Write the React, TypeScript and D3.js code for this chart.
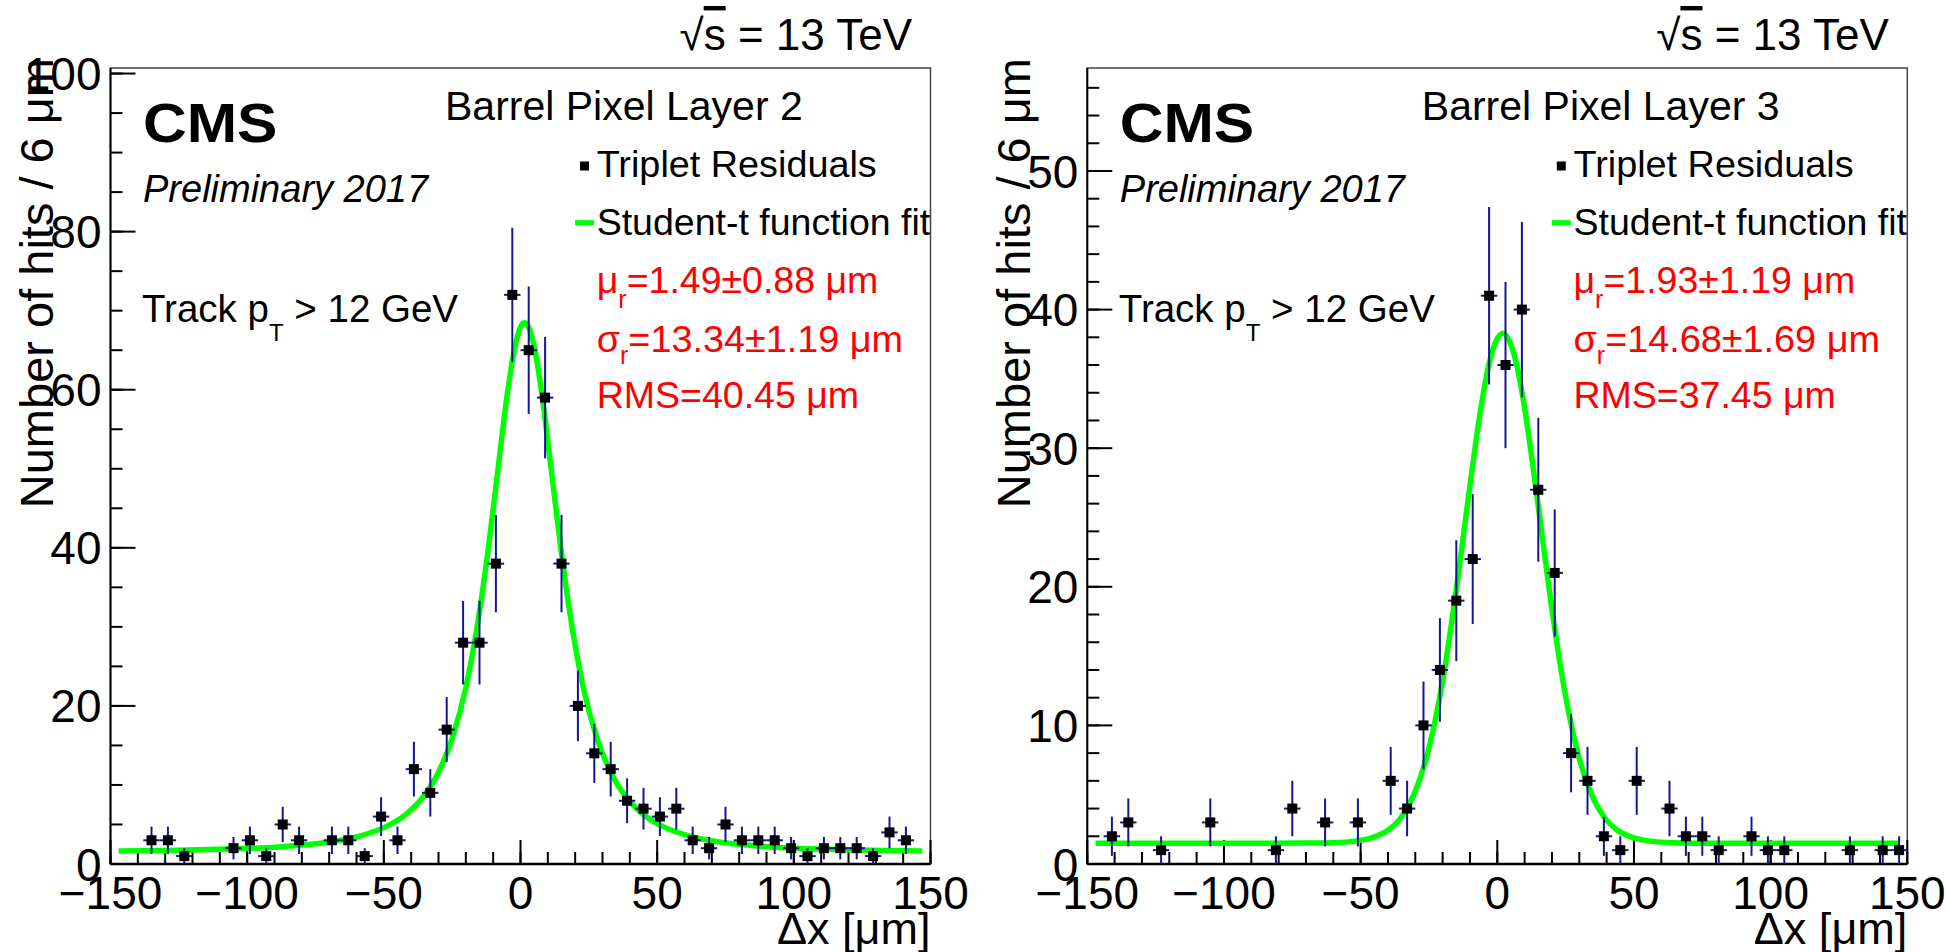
import React from 'react';
import * as d3 from 'd3';

// ---------- data ----------
const binCenters = [-147,-141,-135,-129,-123,-117,-111,-105,-99,-93,-87,-81,-75,-69,-63,-57,-51,-45,-39,-33,-27,-21,-15,-9,-3,3,9,15,21,27,33,39,45,51,57,63,69,75,81,87,93,99,105,111,117,123,129,135,141,147];

const layer2Counts = [0,0,3,3,1,0,0,2,3,1,5,3,0,3,3,1,6,3,12,9,17,28,28,38,72,65,59,38,20,14,12,8,7,6,7,3,2,5,3,3,3,2,1,2,2,2,1,4,3,0];
const layer3Counts = [0,2,3,0,1,0,0,3,0,0,0,1,4,0,3,0,3,0,6,4,10,14,19,22,41,36,40,27,21,8,6,2,1,6,0,4,2,2,1,0,2,1,1,0,0,0,1,0,1,1];

const layer2FitX = [-147,-130,-110,-90,-75,-60,-50,-42,-36,-30,-25,-20,-16,-12,-8,-5,-2,0,1.5,3,5,8,11,15,19,23,28,33,39,45,53,63,78,93,113,133,147];
const layer2FitY = [1.65,1.72,1.86,2.13,2.55,3.43,4.60,6.26,8.32,11.6,15.9,22.3,29.7,39.3,50.6,59.0,65.5,67.9,68.5,67.9,65.5,59.0,50.6,39.3,29.7,22.3,15.9,11.6,8.32,6.26,4.60,3.43,2.55,2.13,1.86,1.72,1.66];

const layer3FitX = [-147,-100,-70,-60,-52,-46,-40,-35,-30,-25,-20,-15,-10,-6,-3,0,2,4,7,10,14,19,24,29,34,39,44,50,56,64,80,110,147];
const layer3FitY = [1.50,1.50,1.51,1.54,1.65,1.88,2.43,3.41,5.24,8.37,13.2,19.8,27.3,32.9,36.1,37.9,38.3,37.9,36.1,32.9,27.3,19.8,13.2,8.37,5.24,3.41,2.43,1.88,1.65,1.54,1.50,1.50,1.50];

const xTicks = [-150,-100,-50,0,50,100,150];
const layer2YTicks = [0,20,40,60,80,100];
const layer3YTicks = [0,10,20,30,40,50];

const layer2Stats = ['1.49±0.88', '13.34±1.19', '40.45'];
const layer3Stats = ['1.93±1.19', '14.68±1.69', '37.45'];

const FONT = '"Liberation Sans", Arial, Helvetica, sans-serif';
const RED = '#ff0000';
const NAVY = '#14149a';
const GREEN = '#00ff00';

type PanelProps = {
  x0: number;
  counts: number[];
  fitX: number[];
  fitY: number[];
  yMax: number;
  yTicks: number[];
  yMinorCount: number;
  layer: string;
  stats: string[];
};

function Panel({ x0, counts, fitX, fitY, yMax, yTicks, yMinorCount, layer, stats }: PanelProps) {
  const x1 = x0 + 820;
  const yTop = 68;
  const yBot = 864;
  const x = d3.scaleLinear().domain([-150, 150]).range([x0, x1]);
  const y = d3.scaleLinear().domain([0, yMax]).range([yBot, yTop]);
  const xMinor = x.ticks(30);
  const yMinor = y.ticks(yMinorCount);
  const line = d3
    .line<number>()
    .x((d, i) => x(fitX[i]))
    .y((d) => y(d))
    .curve(d3.curveMonotoneX);
  const pts = binCenters.map((c, i) => ({ c, n: counts[i] })).filter((p) => p.n > 0);
  const halfBin = 3;
  const ms = 10;
  const lx = x0 + 486.2;

  return (
    <g fontFamily={FONT}>
      {/* frame */}
      <rect x={x0} y={yTop} width={x1 - x0} height={yBot - yTop} fill="none" stroke="#444" strokeWidth={1.5} />
      {/* x axis ticks */}
      {xMinor.map((t) => (
        <line key={'xm' + t} x1={x(t)} x2={x(t)} y1={yBot} y2={yBot - 12} stroke="#000" strokeWidth={2} />
      ))}
      {xTicks.map((t) => (
        <line key={'xM' + t} x1={x(t)} x2={x(t)} y1={yBot} y2={yBot - 24} stroke="#000" strokeWidth={2} />
      ))}
      {/* y axis ticks */}
      {yMinor.map((t) => (
        <line key={'ym' + t} x1={x0} x2={x0 + 12} y1={y(t)} y2={y(t)} stroke="#000" strokeWidth={2} />
      ))}
      {yTicks.map((t) => (
        <line key={'yM' + t} x1={x0} x2={x0 + 25} y1={y(t)} y2={y(t)} stroke="#000" strokeWidth={2} />
      ))}
      <line x1={x0} x2={x1} y1={yBot} y2={yBot} stroke="#000" strokeWidth={2.5} />
      <line x1={x0} x2={x0} y1={yTop} y2={yBot} stroke="#000" strokeWidth={2} />

      {/* tick labels */}
      {xTicks.map((t) => (
        <text key={'xl' + t} x={x(t)} y={909} fontSize={46} textAnchor="middle">
          {t < 0 ? '\u2212' + Math.abs(t) : String(t)}
        </text>
      ))}
      {yTicks.map((t) => (
        <text key={'yl' + t} x={x0 - 9} y={y(t)} dy="0.36em" fontSize={46} textAnchor="end">
          {t}
        </text>
      ))}

      {/* axis titles */}
      <text transform={`translate(${x0 - 57.5},58) rotate(-90)`} fontSize={47} textAnchor="end">
        Number of hits / 6 μm
      </text>
      <text x={x1} y={944} fontSize={45} textAnchor="end">
        Δx [μm]
      </text>

      {/* fit */}
      <path d={line(fitY) || ''} fill="none" stroke={GREEN} strokeWidth={5.5} />

      {/* error bars */}
      {pts.map((p) => (
        <g key={'e' + p.c} stroke={NAVY} strokeWidth={2}>
          <line x1={x(p.c)} x2={x(p.c)} y1={y(p.n - Math.sqrt(p.n))} y2={y(p.n + Math.sqrt(p.n))} />
          <line x1={x(p.c - halfBin)} x2={x(p.c + halfBin)} y1={y(p.n)} y2={y(p.n)} />
        </g>
      ))}
      {pts.map((p) => (
        <rect key={'m' + p.c} x={x(p.c) - ms / 2} y={y(p.n) - ms / 2} width={ms} height={ms} fill="#000" />
      ))}

      {/* labels */}
      <text transform={`translate(${x0 + 32.5},141.7) scale(1.1,1)`} fontSize={55} fontWeight="bold">
        CMS
      </text>
      <text x={x0 + 32.5} y={201.7} fontSize={38} fontStyle="italic">
        Preliminary 2017
      </text>
      <text x={x0 + 31.5} y={321.7} fontSize={38.5}>
        Track p
        <tspan fontSize={24} dy={19}>T</tspan>
        <tspan dy={-19}> &gt; 12 GeV</tspan>
      </text>
      <text x={x0 + 334.5} y={120} fontSize={41}>
        Barrel Pixel Layer {layer}
      </text>
      <text x={x0 + 801.5} y={50} fontSize={44} textAnchor="end">
        √<tspan textDecoration="overline">s</tspan> = 13 TeV
      </text>

      {/* legend */}
      <rect x={x0 + 469.5} y={161.5} width={9} height={9} fill="#000" />
      <text x={lx} y={177.3} fontSize={37.8}>
        Triplet Residuals
      </text>
      <line x1={x0 + 464.5} x2={x0 + 483.5} y1={222.7} y2={222.7} stroke={GREEN} strokeWidth={5} />
      <text x={lx} y={235} fontSize={37.5}>
        Student-t function fit
      </text>
      <text x={lx} y={293.3} fontSize={37.5} fill={RED}>
        μ<tspan fontSize={25} dy={15}>r</tspan>
        <tspan dy={-15}>={stats[0]} μm</tspan>
      </text>
      <text x={lx} y={351.7} fontSize={37.8} fill={RED}>
        σ<tspan fontSize={25} dy={12}>r</tspan>
        <tspan dy={-12}>={stats[1]} μm</tspan>
      </text>
      <text x={lx} y={408.3} fontSize={37.5} fill={RED}>
        RMS={stats[2]} μm
      </text>
    </g>
  );
}

export default function App() {
  return (
    <svg
      width={1948}
      height={952}
      style={{ position: 'absolute', left: 0, top: 0, background: '#fff' }}
    >
      <rect x={0} y={0} width={1948} height={952} fill="#fff" />
      <Panel
        x0={110.5}
        counts={layer2Counts}
        fitX={layer2FitX}
        fitY={layer2FitY}
        yMax={100.7}
        yTicks={layer2YTicks}
        yMinorCount={20}
        layer="2"
        stats={layer2Stats}
      />
      <Panel
        x0={1087.3}
        counts={layer3Counts}
        fitX={layer3FitX}
        fitY={layer3FitY}
        yMax={57.43}
        yTicks={layer3YTicks}
        yMinorCount={30}
        layer="3"
        stats={layer3Stats}
      />
    </svg>
  );
}
